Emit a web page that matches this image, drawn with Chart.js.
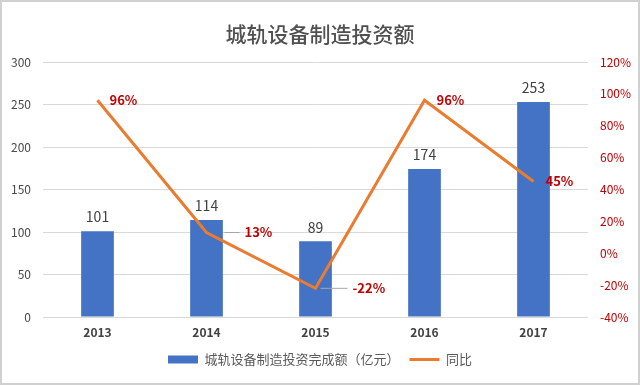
<!DOCTYPE html>
<html lang="zh">
<head>
    <meta charset="UTF-8">
    <title>城轨设备制造投资额</title>
    <style>
        body {
            margin: 0;
            padding: 0;
            background: #fff;
        }
        #chartBox {
            width: 640px;
            height: 385px;
        }
    </style>
    <script src="https://cdn.jsdelivr.net/npm/chart.js"></script>
</head>
<body>
    <div id="chartBox">
        <canvas id="investChart" width="640" height="385"></canvas>
    </div>

    <script>
        const years = ['2013', '2014', '2015', '2016', '2017'];
        const investment = [101, 114, 89, 174, 253];
        const yoy = [96, 13, -22, 96, 45];
        const leftTicks = [0, 50, 100, 150, 200, 250, 300];
        const rightTicks = [-40, -20, 0, 20, 40, 60, 80, 100, 120];

        const FONT = '"Noto Sans CJK SC", "Noto Sans", sans-serif';
        const BLUE = '#4472C4';
        const ORANGE = '#E97C30';
        const RED = '#C00000';
        const GREY = '#595959';

        // frame + title
        const framePlugin = {
            id: 'frame',
            beforeDraw(chart) {
                const ctx = chart.ctx;
                ctx.save();
                ctx.fillStyle = '#fff';
                ctx.fillRect(0, 0, chart.width, chart.height);
                ctx.strokeStyle = '#d0d0d0';
                ctx.lineWidth = 2;
                ctx.strokeRect(1, 1, chart.width - 2, chart.height - 2);
                ctx.fillStyle = '#505050';
                ctx.font = '500 21px ' + FONT;
                ctx.textAlign = 'center';
                ctx.textBaseline = 'middle';
                ctx.fillText('城轨设备制造投资额', chart.width / 2, 34);
                ctx.restore();
            }
        };

        // value labels
        const labelPlugin = {
            id: 'valueLabels',
            afterDatasetsDraw(chart) {
                const ctx = chart.ctx;
                ctx.save();
                const barMeta = chart.getDatasetMeta(0);
                ctx.font = '14px ' + FONT;
                ctx.fillStyle = '#404040';
                ctx.textAlign = 'center';
                ctx.textBaseline = 'bottom';
                barMeta.data.forEach((bar, i) => {
                    ctx.fillText(String(investment[i]), bar.x, bar.y - 7);
                });

                const lineMeta = chart.getDatasetMeta(1);
                ctx.font = 'bold 13px ' + FONT;
                ctx.textAlign = 'left';
                ctx.textBaseline = 'middle';
                lineMeta.data.forEach((pt, i) => {
                    let dx = 12;
                    // these two labels sit off the bar with a leader line
                    if (i === 1 || i === 2) {
                        dx = i === 1 ? 38 : 37;
                        ctx.strokeStyle = '#a6a6a6';
                        ctx.lineWidth = 1;
                        ctx.beginPath();
                        ctx.moveTo(pt.x + (i === 1 ? 18 : 5), pt.y);
                        ctx.lineTo(pt.x + dx - 5, pt.y);
                        ctx.stroke();
                    }
                    ctx.fillStyle = RED;
                    ctx.fillText(yoy[i] + '%', pt.x + dx, pt.y);
                });
                ctx.restore();
            }
        };

        const ctx = document.getElementById('investChart').getContext('2d');
        new Chart(ctx, {
            type: 'bar',
            data: {
                labels: years,
                datasets: [{
                    label: '城轨设备制造投资完成额（亿元）',
                    data: investment,
                    backgroundColor: BLUE,
                    yAxisID: 'y',
                    order: 1,
                    barPercentage: 0.6,
                    categoryPercentage: 0.5
                }, {
                    type: 'line',
                    label: '同比',
                    data: yoy,
                    borderColor: ORANGE,
                    backgroundColor: ORANGE,
                    borderWidth: 3,
                    pointRadius: 0,
                    tension: 0,
                    yAxisID: 'y1',
                    order: 0
                }]
            },
            options: {
                responsive: false,
                animation: false,
                layout: {
                    padding: { top: 62, left: 0, right: 0, bottom: 9 }
                },
                plugins: {
                    title: { display: false },
                    tooltip: { enabled: false },
                    legend: {
                        position: 'bottom',
                        labels: {
                            usePointStyle: true,
                            pointStyleWidth: 30,
                            boxHeight: 8,
                            padding: 10,
                            color: GREY,
                            font: { family: FONT, size: 13 },
                            generateLabels(chart) {
                                return chart.data.datasets.map((ds, i) => ({
                                    text: ds.label,
                                    fillStyle: i === 0 ? BLUE : ORANGE,
                                    strokeStyle: i === 0 ? BLUE : ORANGE,
                                    lineWidth: i === 0 ? 0 : 3,
                                    pointStyle: i === 0 ? 'rect' : 'line',
                                    fontColor: GREY,
                                    datasetIndex: i,
                                    hidden: false
                                }));
                            }
                        }
                    }
                },
                scales: {
                    x: {
                        grid: { display: false },
                        border: { display: false },
                        ticks: {
                            color: '#404040',
                            font: { family: FONT, size: 12, weight: 'bold' },
                            padding: 0
                        },
                        afterFit(scale) { scale.height = 26; }
                    },
                    y: {
                        position: 'left',
                        min: 0,
                        max: 300,
                        afterBuildTicks(scale) {
                            scale.ticks = leftTicks.map(v => ({ value: v }));
                        },
                        grid: { color: '#d9d9d9', drawTicks: false },
                        border: { display: false },
                        ticks: {
                            color: '#4a4a4a',
                            font: { family: FONT, size: 12 },
                            padding: 12
                        },
                        afterFit(scale) { scale.width = 43; }
                    },
                    y1: {
                        position: 'right',
                        min: -40,
                        max: 120,
                        afterBuildTicks(scale) {
                            scale.ticks = rightTicks.map(v => ({ value: v }));
                        },
                        grid: { drawOnChartArea: false, drawTicks: false },
                        border: { display: false },
                        ticks: {
                            color: RED,
                            font: { family: FONT, size: 12 },
                            padding: 12,
                            callback: v => v + '%'
                        },
                        afterFit(scale) { scale.width = 52; }
                    }
                }
            },
            plugins: [framePlugin, labelPlugin]
        });
    </script>
</body>
</html>
